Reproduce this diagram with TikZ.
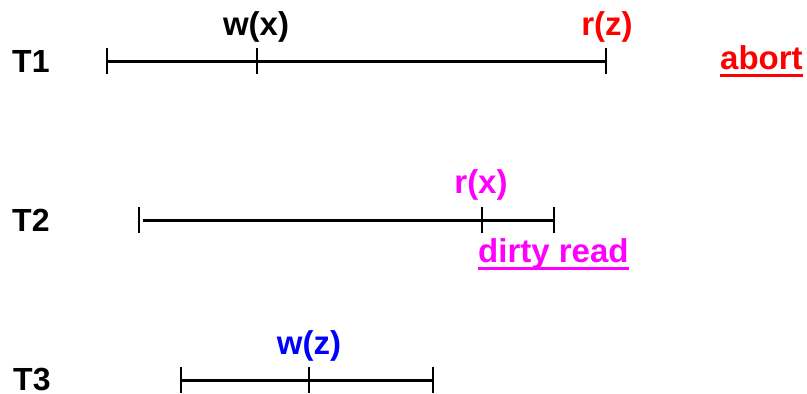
\documentclass[tikz,border=0pt]{standalone}
\usepackage{fontspec}
\setmainfont{Liberation Sans}
\begin{document}
\begin{tikzpicture}[x=1pt,y=-1pt,
  lbl/.style={font=\bfseries\fontsize{33}{33}\selectfont, inner sep=0pt},
  tlbl/.style={font=\bfseries\fontsize{32}{32}\selectfont, inner sep=0pt, text depth=0pt},
  tl/.style={line width=3pt},
  tick/.style={line width=2.8pt}]
\useasboundingbox (0,0) rectangle (807,394);
\definecolor{myred}{RGB}{255,0,0}
\definecolor{mymag}{RGB}{255,0,255}
\definecolor{myblue}{RGB}{0,0,255}
% T1
\node[tlbl, anchor=base west] (t1) at (12,72) {T1};
\coordinate (a1) at (107,61);
\coordinate (a2) at (257,61);
\coordinate (a3) at (606,61);
\draw[tl] (a1) -- (a3);
\foreach \p in {a1,a2,a3} \draw[tick] ([yshift=-13pt]\p) -- ([yshift=13pt]\p);
\node[lbl, anchor=base] (wx) at (256,35) {w(x)};
\node[lbl, anchor=base, text=myred] (rz) at (607,35) {r(z)};
\node[lbl, anchor=base west, text=myred] (ab) at (720,69) {abort};
\draw[myred, line width=3pt] ([yshift=-6pt]ab.base west) -- ([yshift=-6pt]ab.base east);
% T2
\node[tlbl, anchor=base west] (t2) at (12,231) {T2};
\coordinate (b1) at (139,220);
\coordinate (b1s) at (143,220);
\coordinate (b2) at (482,220);
\coordinate (b3) at (554,220);
\draw[tl] (b1s) -- (b3);
\foreach \p in {b1,b2,b3} \draw[tick] ([yshift=-13pt]\p) -- ([yshift=13pt]\p);
\node[lbl, anchor=base, text=mymag] (rx) at (481,193) {r(x)};
\node[lbl, anchor=base west, text=mymag] (dr) at (478,262) {dirty read};
\draw[mymag, line width=3pt] ([yshift=-6pt]dr.base west) -- ([yshift=-6pt]dr.base east);
% T3
\node[tlbl, anchor=base west] (t3) at (13,390) {T3};
\coordinate (c1) at (181,380);
\coordinate (c2) at (309,380);
\coordinate (c3) at (433,380);
\draw[tl] (c1) -- (c3);
\foreach \p in {c1,c2,c3} \draw[tick] ([yshift=-13pt]\p) -- ([yshift=13pt]\p);
\node[lbl, anchor=base, text=myblue] (wz) at (309,354) {w(z)};
\end{tikzpicture}
\end{document}
